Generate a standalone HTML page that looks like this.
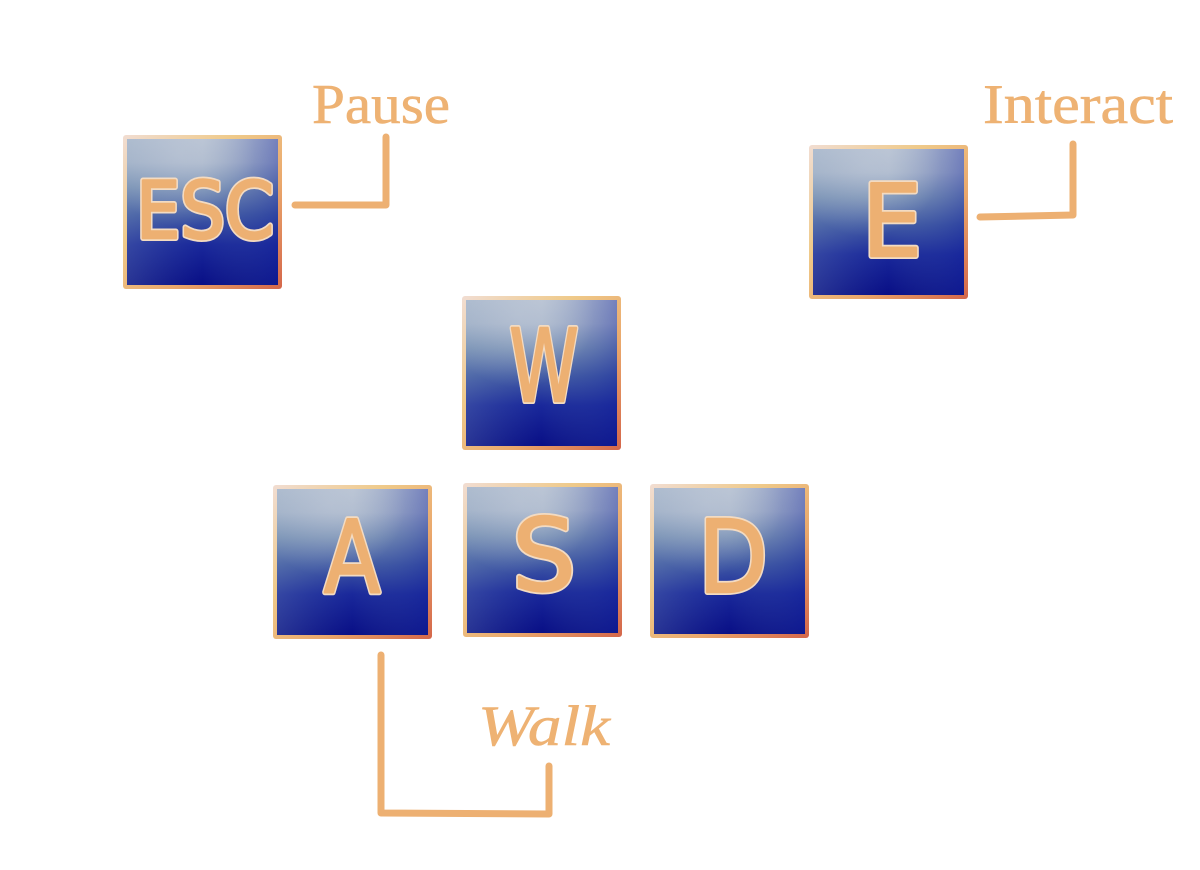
<!DOCTYPE html>
<html>
<head>
<meta charset="utf-8">
<style>
  html, body { margin: 0; padding: 0; background: #ffffff; }
  body { width: 1200px; height: 870px; overflow: hidden; }
  svg { display: block; }
</style>
</head>
<body>
<svg width="1200" height="870" viewBox="0 0 1200 870" xmlns="http://www.w3.org/2000/svg">
  <defs>
    <linearGradient id="base" x1="0" y1="0" x2="0" y2="1">
      <stop offset="0" stop-color="#bdc7d6"/>
      <stop offset="0.16" stop-color="#b0bccf"/>
      <stop offset="0.33" stop-color="#7a92b6"/>
      <stop offset="0.52" stop-color="#3f58a4"/>
      <stop offset="0.72" stop-color="#16249a"/>
      <stop offset="1" stop-color="#040984"/>
    </linearGradient>
    <linearGradient id="side" x1="0" y1="0" x2="1" y2="0">
      <stop offset="0" stop-color="#7f9ab8" stop-opacity="0.3"/>
      <stop offset="0.5" stop-color="#5a74a8" stop-opacity="0.05"/>
      <stop offset="1" stop-color="#1a2a9e" stop-opacity="0.45"/>
    </linearGradient>
    <radialGradient id="hl" cx="0.35" cy="0.1" r="0.5">
      <stop offset="0" stop-color="#c3ccd9" stop-opacity="0.45"/>
      <stop offset="1" stop-color="#c3ccd9" stop-opacity="0"/>
    </radialGradient>
    <linearGradient id="bord" x1="0" y1="0" x2="1" y2="1">
      <stop offset="0" stop-color="#f1ddd2"/>
      <stop offset="0.35" stop-color="#efca8a"/>
      <stop offset="0.65" stop-color="#eaa86c"/>
      <stop offset="1" stop-color="#d4664a"/>
    </linearGradient>
    <g id="keybg">
      <rect x="0" y="0" width="159" height="154" rx="3" fill="url(#bord)"/>
      <rect x="4" y="4" width="151" height="146" fill="url(#base)"/>
      <rect x="4" y="4" width="151" height="146" fill="url(#side)"/>
      <rect x="4" y="4" width="151" height="146" fill="url(#hl)"/>
    </g>
  </defs>

  <!-- Keys -->
  <use href="#keybg" x="123" y="135"/>
  <use href="#keybg" x="809" y="145"/>
  <use href="#keybg" x="462" y="296"/>
  <use href="#keybg" x="273" y="485"/>
  <use href="#keybg" x="463" y="483"/>
  <use href="#keybg" x="650" y="484"/>

  <!-- Key letters -->
  <g font-family="'DejaVu Sans', sans-serif" text-anchor="middle" stroke-linejoin="round" stroke-linecap="round">
    <!-- outline layer -->
    <g fill="#f3dbc2" stroke="#f3dbc2" stroke-width="6">
      <text transform="translate(205,238) scale(0.9,1)" font-size="78">ESC</text>
      <text transform="translate(892,256) scale(0.95,1)" font-size="100">E</text>
      <text transform="translate(544,401) scale(0.7,1)" font-size="100">W</text>
      <text transform="translate(352,592) scale(0.82,1)" font-size="100">A</text>
      <text transform="translate(544,590) scale(1.0,1)" font-size="100">S</text>
      <text transform="translate(733,592) scale(0.9,1)" font-size="100">D</text>
    </g>
    <!-- fill layer -->
    <g fill="#edb072" stroke="#edb072" stroke-width="2.5">
      <text transform="translate(205,238) scale(0.9,1)" font-size="78">ESC</text>
      <text transform="translate(892,256) scale(0.95,1)" font-size="100">E</text>
      <text transform="translate(544,401) scale(0.7,1)" font-size="100">W</text>
      <text transform="translate(352,592) scale(0.82,1)" font-size="100">A</text>
      <text transform="translate(544,590) scale(1.0,1)" font-size="100">S</text>
      <text transform="translate(733,592) scale(0.9,1)" font-size="100">D</text>
    </g>
  </g>

  <!-- Connectors -->
  <g fill="none" stroke="#edb072" stroke-width="7" stroke-linecap="round" stroke-linejoin="round">
    <polyline points="295,205 386,205 386,137"/>
    <polyline points="980,217 1073,215 1073,144"/>
    <polyline points="381,655 381,813 549,814 549,766"/>
  </g>

  <!-- Labels -->
  <g font-family="'Liberation Serif', serif" fill="#eeb273" stroke="#eeb273" stroke-width="0.6">
    <text x="312" y="123" font-size="56" textLength="138" lengthAdjust="spacingAndGlyphs">Pause</text>
    <text x="983" y="123" font-size="56" textLength="190" lengthAdjust="spacingAndGlyphs">Interact</text>
    <text x="478" y="745" font-size="57" font-style="italic" textLength="132" lengthAdjust="spacingAndGlyphs">Walk</text>
  </g>
</svg>
</body>
</html>
